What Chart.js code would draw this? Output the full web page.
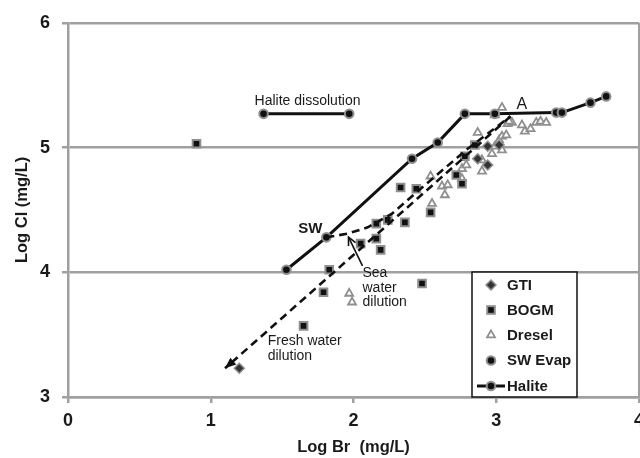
<!DOCTYPE html>
<html><head><meta charset="utf-8">
<script src="https://cdn.jsdelivr.net/npm/chart.js@4.4.0/dist/chart.umd.min.js"></script>
<style>html,body{margin:0;padding:0;background:#fff;} #wrap{width:640px;height:458px;position:relative;}</style>
</head><body><div id="wrap"><canvas id="c"></canvas></div>
<script>
// ---- data ----
const xTickValues = [0, 1, 2, 3, 4];
const yTickValues = [3, 4, 5, 6];

const gtiX = [1.20, 2.87, 2.94, 2.94, 3.02];
const gtiY = [3.23, 4.91, 4.86, 5.01, 5.02];

const bogmX = [0.90, 1.65, 1.79, 1.83, 2.05, 2.16, 2.19, 2.16, 2.24, 2.36, 2.33, 2.44, 2.54, 2.48, 2.72, 2.76, 2.78, 2.85];
const bogmY = [5.03, 3.57, 3.84, 4.02, 4.23, 4.27, 4.18, 4.39, 4.42, 4.40, 4.68, 4.67, 4.48, 3.91, 4.78, 4.71, 4.93, 5.02];

const dreselX = [1.97, 1.99, 2.54, 2.55, 2.62, 2.64, 2.66, 2.76, 2.76, 2.79, 2.90, 2.90, 2.87, 2.97, 2.99, 3.02, 3.04, 3.04, 3.07, 2.99, 3.04, 3.08, 3.11, 3.18, 3.20, 3.24, 3.28, 3.31, 3.35, 3.09];
const dreselY = [3.83, 3.76, 4.77, 4.55, 4.69, 4.62, 4.70, 4.75, 4.83, 4.86, 4.81, 4.90, 5.12, 4.95, 5.01, 5.06, 4.98, 5.09, 5.10, 5.26, 5.32, 5.19, 5.20, 5.18, 5.13, 5.15, 5.20, 5.21, 5.20, 5.21];

const swEvapX = [1.53, 1.81, 2.41, 2.59, 2.78, 2.99, 3.42, 3.46, 3.66, 3.77];
const swEvapY = [4.02, 4.28, 4.91, 5.04, 5.27, 5.27, 5.28, 5.28, 5.36, 5.41];

const haliteX = [1.37, 1.97];
const haliteY = [5.27, 5.27];

const freshX = [3.10, 1.10];
const freshY = [5.25, 3.23];

const seaX = [1.81, 1.96, 2.10, 2.27, 2.46, 2.80, 3.10];
const seaY = [4.28, 4.31, 4.36, 4.47, 4.66, 4.99, 5.25];

const legendLabels = ['GTI', 'BOGM', 'Dresel', 'SW Evap', 'Halite'];

// text annotations (anchored in data units)
const notes = [
  {text: 'Halite dissolution', x: 1.678, y: 5.372, align: 'center', size: 14, bold: false},
  {text: 'SW', x: 1.783, y: 4.345, align: 'right', size: 15, bold: true},
  {text: 'A', x: 3.18, y: 5.344, align: 'center', size: 16, bold: false},
  {text: 'Sea', x: 2.063, y: 3.995, align: 'left', size: 14, bold: false},
  {text: 'water', x: 2.063, y: 3.876, align: 'left', size: 14, bold: false},
  {text: 'dilution', x: 2.063, y: 3.757, align: 'left', size: 14, bold: false},
  {text: 'Fresh water', x: 1.399, y: 3.450, align: 'left', size: 14, bold: false},
  {text: 'dilution', x: 1.399, y: 3.331, align: 'left', size: 14, bold: false}
];
const seaArrow = {fromX: 2.063, fromY: 4.051, toX: 1.965, toY: 4.282};

// ---- helpers ----
const zip = (xs, ys) => xs.map((v, i) => ({x: v, y: ys[i]}));
const FONT = "'Liberation Sans', Arial, Helvetica, sans-serif";
const GRID = '#a0a0a0';
const MK_BORDER = '#8f8f8f';
const INK = '#111111';
const TXT = '#1a1a1a';

function drawMarker(ctx, style, cx, cy) {
  ctx.save();
  if (style === 'circle') {
    ctx.beginPath(); ctx.arc(cx, cy, 4.3, 0, Math.PI * 2);
    ctx.fillStyle = INK; ctx.fill(); ctx.lineWidth = 2; ctx.strokeStyle = MK_BORDER; ctx.stroke();
  } else if (style === 'rect') {
    ctx.fillStyle = INK; ctx.fillRect(cx - 3.8, cy - 3.8, 7.6, 7.6);
    ctx.lineWidth = 2; ctx.strokeStyle = MK_BORDER; ctx.strokeRect(cx - 3.8, cy - 3.8, 7.6, 7.6);
  } else if (style === 'rectRot') {
    ctx.beginPath(); ctx.moveTo(cx, cy - 5); ctx.lineTo(cx + 5, cy); ctx.lineTo(cx, cy + 5); ctx.lineTo(cx - 5, cy); ctx.closePath();
    ctx.fillStyle = '#333'; ctx.fill(); ctx.lineWidth = 1.5; ctx.strokeStyle = MK_BORDER; ctx.stroke();
  } else if (style === 'triangle') {
    const r = 4.6;
    ctx.beginPath(); ctx.moveTo(cx, cy - r); ctx.lineTo(cx + r * 0.866, cy + r * 0.5); ctx.lineTo(cx - r * 0.866, cy + r * 0.5); ctx.closePath();
    ctx.fillStyle = '#fff'; ctx.fill(); ctx.lineWidth = 1.8; ctx.strokeStyle = MK_BORDER; ctx.stroke();
  }
  ctx.restore();
}

const annotPlugin = {
  id: 'annot',
  afterDatasetsDraw(chart) {
    const {ctx, chartArea} = chart;
    const xs = chart.scales.x, ys = chart.scales.y;
    ctx.save();
    // arrowhead on fresh water dilution line
    const ax1 = xs.getPixelForValue(freshX[0]), ay1 = ys.getPixelForValue(freshY[0]);
    const ax0 = xs.getPixelForValue(freshX[1]), ay0 = ys.getPixelForValue(freshY[1]);
    let dx = ax0 - ax1, dy = ay0 - ay1; const L = Math.hypot(dx, dy); dx /= L; dy /= L;
    const px = -dy, py = dx;
    ctx.beginPath();
    ctx.moveTo(ax0, ay0);
    ctx.lineTo(ax0 - dx * 11 + px * 4.5, ay0 - dy * 11 + py * 4.5);
    ctx.lineTo(ax0 - dx * 11 - px * 4.5, ay0 - dy * 11 - py * 4.5);
    ctx.closePath(); ctx.fillStyle = INK; ctx.fill();

    // sea water dilution pointer arrow
    const sx0 = xs.getPixelForValue(seaArrow.fromX), sy0 = ys.getPixelForValue(seaArrow.fromY);
    const sx1 = xs.getPixelForValue(seaArrow.toX), sy1 = ys.getPixelForValue(seaArrow.toY);
    ctx.strokeStyle = INK; ctx.lineWidth = 1.6; ctx.setLineDash([]);
    ctx.beginPath(); ctx.moveTo(sx0, sy0); ctx.lineTo(sx1, sy1); ctx.stroke();
    let ux = sx1 - sx0, uy = sy1 - sy0; const M = Math.hypot(ux, uy); ux /= M; uy /= M;
    const ang = Math.atan2(uy, ux);
    ctx.beginPath();
    ctx.moveTo(sx1 - 9 * Math.cos(ang - 0.45), sy1 - 9 * Math.sin(ang - 0.45));
    ctx.lineTo(sx1, sy1);
    ctx.lineTo(sx1 - 9 * Math.cos(ang + 0.45), sy1 - 9 * Math.sin(ang + 0.45));
    ctx.stroke();

    // texts
    ctx.textBaseline = 'middle';
    ctx.fillStyle = TXT;
    notes.forEach(n => {
      ctx.font = (n.bold ? 'bold ' : '') + n.size + 'px ' + FONT;
      ctx.textAlign = n.align;
      ctx.fillText(n.text, xs.getPixelForValue(n.x), ys.getPixelForValue(n.y));
    });

    // legend box
    const bw = 105, bh = 125;
    const bx = chartArea.right - 62 - bw, by = chartArea.bottom - bh;
    ctx.fillStyle = '#fff'; ctx.fillRect(bx, by, bw, bh);
    ctx.lineWidth = 1.5; ctx.strokeStyle = INK; ctx.strokeRect(bx, by, bw, bh);
    const styles = ['rectRot', 'rect', 'triangle', 'circle', 'line'];
    const rowY = [13, 38, 63, 88.5, 114];
    ctx.font = 'bold 15px ' + FONT; ctx.textAlign = 'left'; ctx.textBaseline = 'middle';
    legendLabels.forEach((lab, i) => {
      const cy = by + rowY[i], cx = bx + 19;
      if (styles[i] === 'line') {
        ctx.save(); ctx.strokeStyle = INK; ctx.lineWidth = 3;
        ctx.beginPath(); ctx.moveTo(bx + 5, cy); ctx.lineTo(bx + 33, cy); ctx.stroke(); ctx.restore();
        drawMarker(ctx, 'circle', cx, cy);
      } else {
        drawMarker(ctx, styles[i], cx, cy);
      }
      ctx.fillStyle = TXT;
      ctx.fillText(lab, bx + 35, cy + 0.5);
    });
    ctx.restore();
  }
};

const lineDs = (label, xs, ys, extra) => Object.assign({
  label, data: zip(xs, ys), showLine: true, borderColor: INK, pointRadius: 0, tension: 0
}, extra);

new Chart(document.getElementById('c'), {
  type: 'scatter',
  data: {
    datasets: [
      lineDs('Fresh water dilution', freshX, freshY, {borderWidth: 2.6, borderDash: [8, 5], order: 0}),
      lineDs('Sea water dilution', seaX, seaY, {borderWidth: 2.6, borderDash: [8, 5], order: 0}),
      lineDs('SW Evap', swEvapX, swEvapY, {borderWidth: 3, pointRadius: 4.3, pointStyle: 'circle',
        pointBackgroundColor: INK, pointBorderColor: MK_BORDER, pointBorderWidth: 2, order: 1}),
      lineDs('Halite', haliteX, haliteY, {borderWidth: 3, pointRadius: 4.3, pointStyle: 'circle',
        pointBackgroundColor: INK, pointBorderColor: MK_BORDER, pointBorderWidth: 2, order: 1}),
      {label: 'GTI', data: zip(gtiX, gtiY), pointStyle: 'rectRot', pointRadius: 5,
        pointBackgroundColor: '#333', pointBorderColor: MK_BORDER, pointBorderWidth: 1.5, order: 2},
      {label: 'BOGM', data: zip(bogmX, bogmY), pointStyle: 'rect', pointRadius: 5.4,
        pointBackgroundColor: INK, pointBorderColor: MK_BORDER, pointBorderWidth: 2, order: 3},
      {label: 'Dresel', data: zip(dreselX, dreselY), pointStyle: 'triangle', pointRadius: 4.6,
        pointBackgroundColor: '#fff', pointBorderColor: MK_BORDER, pointBorderWidth: 1.8, order: 4}
    ]
  },
  options: {
    responsive: true, maintainAspectRatio: false, animation: false, events: [],
    layout: {autoPadding: false, padding: {top: 20, right: 1, left: 0, bottom: 0}},
    plugins: {legend: {display: false}, tooltip: {enabled: false}},
    scales: {
      x: {
        type: 'linear', min: 0, max: 4,
        afterBuildTicks: s => { s.ticks = xTickValues.map(v => ({value: v})); },
        afterFit: s => { s.height = 61; s.paddingRight = 0; s.paddingLeft = 0; },
        ticks: {font: {size: 18, weight: 'bold', family: FONT}, color: TXT, padding: 7, maxRotation: 0},
        grid: {
          color: c => (c.tick && c.tick.value === 4) ? GRID : 'rgba(0,0,0,0)',
          tickColor: GRID, lineWidth: 2.5, tickLength: 6
        },
        border: {display: true, color: GRID, width: 2.5},
        title: {display: true, text: 'Log Br  (mg/L)', color: TXT,
          font: {size: 16.5, weight: 'bold', family: FONT}, padding: {top: 0, bottom: 1}}
      },
      y: {
        type: 'linear', min: 3, max: 6,
        afterBuildTicks: s => { s.ticks = yTickValues.map(v => ({value: v})); },
        afterFit: s => { s.width = 68; },
        ticks: {font: {size: 18, weight: 'bold', family: FONT}, color: TXT, padding: 12},
        grid: {color: GRID, tickColor: GRID, lineWidth: 2.5, tickLength: 6},
        border: {display: true, color: GRID, width: 2.5},
        title: {display: true, text: 'Log Cl (mg/L)', color: TXT,
          font: {size: 16.5, weight: 'bold', family: FONT}, padding: {top: 13, bottom: 0}}
      }
    }
  },
  plugins: [annotPlugin]
});
</script>
</body></html>
